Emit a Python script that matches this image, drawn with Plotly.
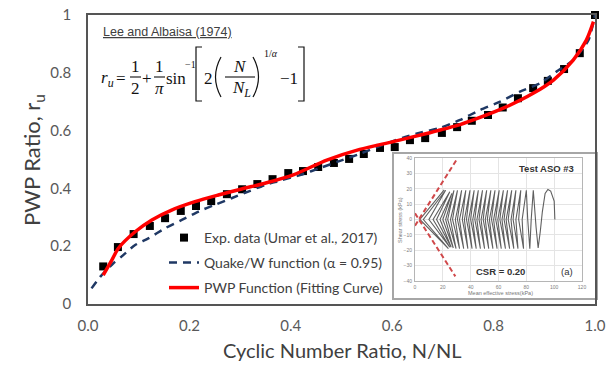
import plotly.graph_objects as go

# ---------------- main chart data ----------------
exp_x = [0.030, 0.059, 0.090, 0.122, 0.152, 0.183, 0.213, 0.243, 0.274, 0.304, 0.334,
         0.364, 0.395, 0.424, 0.454, 0.485, 0.515, 0.544, 0.576, 0.605, 0.635, 0.665,
         0.698, 0.728, 0.757, 0.789, 0.818, 0.848, 0.878, 0.907, 0.939, 0.970, 1.000]
exp_y = [0.130, 0.197, 0.242, 0.270, 0.297, 0.322, 0.339, 0.356, 0.380, 0.397, 0.415,
         0.432, 0.453, 0.460, 0.474, 0.488, 0.502, 0.519, 0.540, 0.543, 0.567, 0.574,
         0.592, 0.612, 0.634, 0.654, 0.680, 0.712, 0.747, 0.772, 0.813, 0.868, 1.000]

quake_x = [0.007, 0.024, 0.050, 0.066, 0.093, 0.119, 0.152, 0.185, 0.218, 0.250, 0.283,
           0.316, 0.349, 0.382, 0.420, 0.460, 0.500, 0.540, 0.580, 0.620, 0.655, 0.694,
           0.734, 0.773, 0.813, 0.852, 0.892, 0.924, 0.957, 0.987, 1.000]
quake_y = [0.054, 0.094, 0.141, 0.164, 0.204, 0.227, 0.262, 0.291, 0.320, 0.343, 0.366,
           0.389, 0.412, 0.429, 0.447, 0.472, 0.497, 0.522, 0.550, 0.575, 0.593, 0.609,
           0.637, 0.671, 0.700, 0.735, 0.764, 0.804, 0.844, 0.913, 1.000]

pwp_x = [0.030, 0.047, 0.060, 0.093, 0.126, 0.165, 0.211, 0.257, 0.303, 0.349, 0.405,
         0.471, 0.536, 0.602, 0.668, 0.727, 0.760, 0.826, 0.878, 0.918, 0.957, 0.983, 0.997]
pwp_y = [0.100, 0.152, 0.193, 0.250, 0.291, 0.325, 0.354, 0.377, 0.398, 0.418, 0.447,
         0.498, 0.535, 0.562, 0.590, 0.617, 0.637, 0.683, 0.729, 0.775, 0.844, 0.913, 0.977]

x_tickvals = [0.0, 0.2, 0.4, 0.6, 0.8, 1.0]
x_ticktext = ["0.0", "0.2", "0.4", "0.6", "0.8", "1.0"]
y_tickvals = [0.0, 0.2, 0.4, 0.6, 0.8, 1.0]
y_ticktext = ["0", "0.2", "0.4", "0.6", "0.8", "1"]

# ---------------- inset (stress path) data ----------------
inset_p = [100.5, 100, 97.5, 95.5, 93.5, 91.5, 90, 88.5, 87, 86, 85,
           83.5, 82.5, 81, 80,
           77, 78, 74.5, 76,
           72.5, 74, 70.5, 72.5,
           69, 71, 67, 69.5,
           65.5, 68, 64, 66.5,
           62.5, 65, 61, 63.5,
           59.5, 62, 58, 60.5,
           56.5, 59, 55, 57.5,
           53.5, 56, 52, 54.5,
           50.5, 53, 49, 51.5,
           47.5, 50, 46, 48.5,
           44.5, 47, 43, 45.5,
           41.5, 44, 40, 42.5,
           38.5, 41, 37, 39.5,
           35.5, 38, 34, 36.5,
           32, 35, 30.5, 33.5,
           29, 32, 27, 30.5,
           25.5, 29.5, 23.5, 28,
           22, 27.5, 20, 26.5,
           18, 26, 15.5, 25,
           13, 25, 10, 22,
           6, 24, 3.5, 21,
           1, 25, 2, 20]
inset_tau = [0, 12, 18.5, 19.5, 17, 5, -8, -18.5, -5, 8, 19,
             0, -19, 0, 19,
             0, -19, 0, 19,
             0, -19, 0, 19,
             0, -19, 0, 19,
             0, -19, 0, 19,
             0, -19, 0, 19,
             0, -19, 0, 19,
             0, -19, 0, 19,
             0, -19, 0, 19,
             0, -19, 0, 19,
             0, -19, 0, 19,
             0, -19, 0, 19,
             0, -19, 0, 19,
             0, -19, 0, 19,
             0, -19, 0, 19,
             0, -19, 0, 19,
             0, -19, 0, 19,
             0, -19, 0, 19,
             0, -18.5, 0, 17,
             0, -18, 0, 18,
             0, -18, 0, 19,
             0, -19, 0, 19.3]
env_up_p = [0, 30]
env_up_tau = [-4, 39]
env_lo_p = [0, 29]
env_lo_tau = [4, -37]
inset_xticks = [0, 20, 40, 60, 80, 100, 120]
inset_yticks = [-40, -30, -20, -10, 0, 10, 20, 30, 40]

# ---------------- layout helpers (pixel -> paper) ----------------
W, H = 615, 365
ML, MR, MT, MB = 88, 20, 15, 61
def PX(x):
    return (x - ML) / (W - ML - MR)
def PY(y):
    return (H - MB - y) / (H - MT - MB)

TICK_FONT = dict(family="Lato", size=15, color="#595959")
TEXT_FONT = "Lato"
SERIF = "Liberation Serif"

fig = go.Figure()

fig.add_trace(go.Scatter(
    x=exp_x, y=exp_y, mode="markers", name="Exp. data (Umar et al., 2017)",
    marker=dict(symbol="square", size=8, color="#000000"), cliponaxis=False,
    legend="legend"))
fig.add_trace(go.Scatter(
    x=quake_x, y=quake_y, mode="lines", name="Quake/W function (α = 0.95)",
    line=dict(color="#1F3864", width=2.5, dash="8px,6px", shape="spline", smoothing=0.6),
    legend="legend2"))
fig.add_trace(go.Scatter(
    x=pwp_x, y=pwp_y, mode="lines", name="PWP Function (Fitting Curve)",
    line=dict(color="#FF0000", width=3.5, shape="spline", smoothing=0.8),
    legend="legend3"))

# inset traces
fig.add_trace(go.Scatter(
    x=inset_p, y=inset_tau, mode="lines", xaxis="x2", yaxis="y2", showlegend=False,
    line=dict(color="#5f5f5f", width=1.1)))
fig.add_trace(go.Scatter(
    x=env_up_p, y=env_up_tau, mode="lines", xaxis="x2", yaxis="y2", showlegend=False,
    line=dict(color="#d0484a", width=2, dash="5px,3px")))
fig.add_trace(go.Scatter(
    x=env_lo_p, y=env_lo_tau, mode="lines", xaxis="x2", yaxis="y2", showlegend=False,
    line=dict(color="#d0484a", width=2, dash="5px,3px")))

shapes = []
annotations = []

# inset outer frame
shapes.append(dict(type="rect", xref="paper", yref="paper",
                   x0=PX(393), x1=PX(597), y0=PY(299), y1=PY(153),
                   line=dict(color="#a6a6a6", width=2), fillcolor="white", layer="below"))

# formula box contents
annotations.append(dict(text="<u>Lee and Albaisa (1974)</u>", x=PX(101), y=PY(32),
                        xref="paper", yref="paper",
                        xanchor="left", yanchor="middle", showarrow=False,
                        font=dict(family="Liberation Sans", size=12.5, color="#404040")))

def ftxt(t, x, y, size=17):
    annotations.append(dict(text=t, x=PX(x), y=PY(y), xref="paper", yref="paper",
                            xanchor="center", yanchor="middle", showarrow=False,
                            font=dict(family=SERIF, size=size, color="#111111")))

def hline(x0, x1, y):
    shapes.append(dict(type="line", xref="paper", yref="paper",
                       x0=PX(x0), x1=PX(x1), y0=PY(y), y1=PY(y),
                       line=dict(color="#111111", width=1.1)))

def pathshape(pts_str):
    shapes.append(dict(type="path", xref="paper", yref="paper", path=pts_str,
                       line=dict(color="#111111", width=1.2)))

def P(x, y):
    return f"{PX(x):.5f},{PY(y):.5f}"

ftxt("<i>r</i><sub><i>u</i></sub>", 107, 79)
ftxt("=", 121, 78)
ftxt("1", 135, 66)
hline(130, 141, 77)
ftxt("2", 135, 88)
ftxt("+", 147, 78)
ftxt("1", 159.5, 66)
hline(154, 165, 77)
ftxt("<i>π</i>", 159.5, 88)
ftxt("sin", 175.5, 78)
ftxt("−1", 190, 64, 10)
ftxt("2", 208, 78)
ftxt("<i>N</i>", 240, 66)
hline(225, 255, 77)
ftxt("<i>N</i><sub><i>L</i></sub>", 241, 89)
ftxt("1/<i>α</i>", 271, 53, 10)
ftxt("−1", 288.5, 78)
pathshape(f"M {P(202,47)} L {P(196,47)} L {P(196,101)} L {P(202,101)}")
pathshape(f"M {P(298,47)} L {P(304,47)} L {P(304,101)} L {P(298,101)}")
pathshape(f"M {P(221,57)} Q {P(210,77)} {P(221,97)}")
pathshape(f"M {P(253,57)} Q {P(264,77)} {P(253,97)}")

# axis titles
annotations.append(dict(text="PWP Ratio, r<sub>u</sub>", x=PX(33), y=PY(160),
                        xref="paper", yref="paper", textangle=-90, showarrow=False,
                        xanchor="center", yanchor="middle",
                        font=dict(family=TEXT_FONT, size=22, color="#404040")))
annotations.append(dict(text="Cyclic Number Ratio, N/NL", x=PX(342), y=PY(350),
                        xref="paper", yref="paper", showarrow=False,
                        xanchor="center", yanchor="middle",
                        font=dict(family=TEXT_FONT, size=20, color="#404040")))

# inset texts
def itxt(t, x, y, size, bold=False, angle=0, color="#333333"):
    annotations.append(dict(text=f"<b>{t}</b>" if bold else t, x=PX(x), y=PY(y),
                            xref="paper", yref="paper", showarrow=False, textangle=angle,
                            xanchor="center", yanchor="middle",
                            font=dict(family="Liberation Sans", size=size, color=color)))
itxt("Test ASO #3", 546, 168, 9.5, bold=True)
itxt("CSR = 0.20", 500, 271, 9.5, bold=True)
itxt("(a)", 567, 271, 9.5)
itxt("Shear stress (kPa)", 400, 220, 5.5, angle=-90, color="#777777")
itxt("Mean effective stress(kPa)", 500, 293, 5.5, color="#777777")

legend_common = dict(xanchor="left", yanchor="middle", bgcolor="rgba(0,0,0,0)",
                     borderwidth=0, font=dict(family=TEXT_FONT, size=14, color="#404040"),
                     itemclick=False, itemdoubleclick=False)

fig.update_layout(
    template="none",
    width=W, height=H,
    margin=dict(l=ML, r=MR, t=MT, b=MB, pad=0, autoexpand=False),
    paper_bgcolor="white", plot_bgcolor="rgba(0,0,0,0)",
    showlegend=True,
    legend=dict(x=PX(164), y=PY(238), **legend_common),
    legend2=dict(x=PX(164), y=PY(263), **legend_common),
    legend3=dict(x=PX(164), y=PY(288), **legend_common),
    xaxis=dict(range=[0, 1], tickvals=x_tickvals, ticktext=x_ticktext, tickfont=TICK_FONT,
               showgrid=False, zeroline=False, showline=True, mirror=True, automargin=False,
               linecolor="#555555", linewidth=1.5, ticks="", ticklabelstandoff=7),
    yaxis=dict(range=[0, 1], tickvals=y_tickvals, ticktext=y_ticktext, tickfont=TICK_FONT,
               showgrid=False, zeroline=False, showline=True, mirror=True, automargin=False,
               linecolor="#555555", linewidth=1.5, ticks="", ticklabelstandoff=12),
    xaxis2=dict(domain=[PX(415), PX(582)], anchor="y2", range=[0, 120], automargin=False,
                tickvals=inset_xticks, tickfont=dict(family="Liberation Sans", size=5, color="#808080"),
                showgrid=True, gridcolor="#e4e4e4", gridwidth=0.8, zeroline=False,
                showline=True, mirror=True, linecolor="#b5b5b5", linewidth=1, ticks="",
                ticklabelstandoff=1),
    yaxis2=dict(domain=[PY(281), PY(158)], anchor="x2", range=[-40, 40], automargin=False,
                tickvals=inset_yticks, tickfont=dict(family="Liberation Sans", size=5, color="#808080"),
                showgrid=True, gridcolor="#e4e4e4", gridwidth=0.8, zeroline=False,
                showline=True, mirror=True, linecolor="#b5b5b5", linewidth=1, ticks="",
                ticklabelstandoff=1),
    shapes=shapes,
    annotations=annotations,
)

fig.write_html("out.html", config={"displayModeBar": False},
               post_script="document.body.style.margin='0px';")
